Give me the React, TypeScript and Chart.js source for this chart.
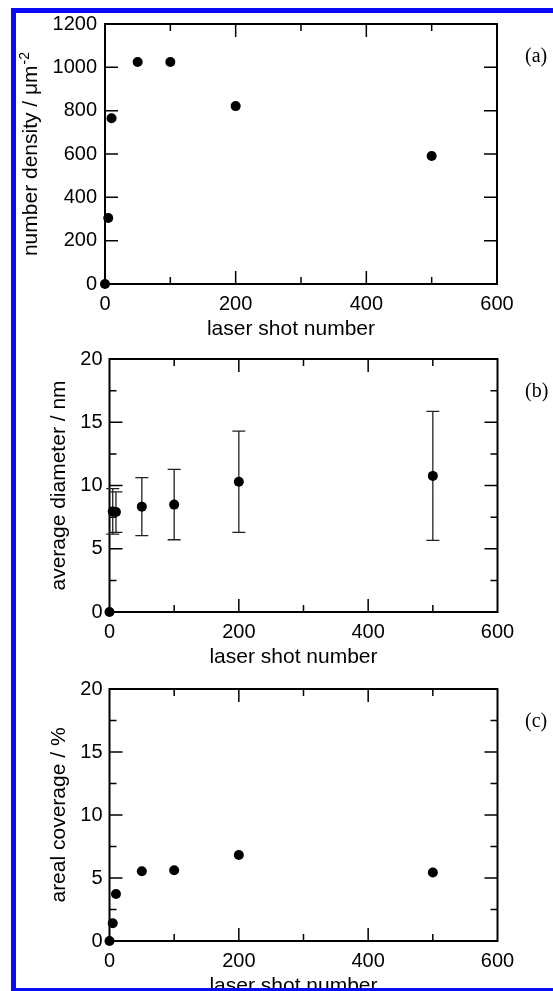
import { useEffect, useRef } from 'react';
import { Chart, registerables } from 'chart.js';

Chart.register(...registerables);

// ---- data ----
const shotNumbers = [0, 5, 10, 50, 100, 200, 500];
const numberDensity = [0, 305, 765, 1025, 1025, 821, 591];
const avgDiameter = [0, 7.95, 7.9, 8.33, 8.49, 10.3, 10.76];
const diameterError = [0, 1.8, 1.6, 2.29, 2.78, 4.0, 5.1];
const arealCoverage = [0, 1.41, 3.73, 5.54, 5.61, 6.82, 5.43];

const xMajorTicks = [200, 400];
const xMinorTicks = [100, 300, 500];
const densityMajorTicks = [200, 400, 600, 800, 1000];
const percentMajorTicks = [5, 10, 15];
const percentMinorTicks = [2.5, 7.5, 12.5, 17.5];

const xTitle = 'laser shot number';

const SANS = '"Liberation Sans", Arial, Helvetica, sans-serif';
const SERIF = '"Liberation Serif", "Times New Roman", serif';
const W = 553;

type Spec = {
  key: string;
  canvasTop: number;
  canvasHeight: number;
  plotLeft: number;
  plotTop: number;
  plotRight: number;
  plotBottom: number;
  yMax: number;
  yStep: number;
  yMajor: number[];
  yMinor: number[];
  values: number[];
  errors?: number[];
  yTitle: string;
  ySup?: string;
  yTitleX: number;
  label: string;
  tickPad: number;
};

const specs: Spec[] = [
  {
    key: 'a', canvasTop: 0, canvasHeight: 340,
    plotLeft: 105, plotTop: 24, plotRight: 497, plotBottom: 284,
    yMax: 1200, yStep: 200, yMajor: densityMajorTicks, yMinor: [],
    values: numberDensity, yTitle: 'number density / \u03bcm', ySup: '-2',
    yTitleX: 37, label: '(a)', tickPad: 8,
  },
  {
    key: 'b', canvasTop: 340, canvasHeight: 330,
    plotLeft: 109.5, plotTop: 354, plotRight: 497.5, plotBottom: 612,
    yMax: 20, yStep: 5, yMajor: percentMajorTicks, yMinor: percentMinorTicks,
    values: avgDiameter, errors: diameterError, yTitle: 'average diameter / nm',
    yTitleX: 65, label: '(b)', tickPad: 7,
  },
  {
    key: 'c', canvasTop: 670, canvasHeight: 321,
    plotLeft: 109.5, plotTop: 682, plotRight: 497.5, plotBottom: 941,
    yMax: 20, yStep: 5, yMajor: percentMajorTicks, yMinor: percentMinorTicks,
    values: arealCoverage, yTitle: 'areal coverage / %',
    yTitleX: 65, label: '(c)', tickPad: 7,
  },
];

function makePlugin(spec: Spec) {
  return {
    id: 'decor' + spec.key,
    beforeDatasetsDraw(chart: any) {
      const ctx = chart.ctx as CanvasRenderingContext2D;
      const a = chart.chartArea;
      const xs = chart.scales.x;
      const ys = chart.scales.y;
      ctx.save();
      ctx.strokeStyle = '#000';
      ctx.lineWidth = 1.5;
      const MAJ = 13;
      const MIN = 7;
      ctx.beginPath();
      for (const v of xMajorTicks) {
        const px = xs.getPixelForValue(v);
        ctx.moveTo(px, a.bottom); ctx.lineTo(px, a.bottom - MAJ);
        ctx.moveTo(px, a.top); ctx.lineTo(px, a.top + MAJ);
      }
      for (const v of xMinorTicks) {
        const px = xs.getPixelForValue(v);
        ctx.moveTo(px, a.bottom); ctx.lineTo(px, a.bottom - MIN);
        ctx.moveTo(px, a.top); ctx.lineTo(px, a.top + MIN);
      }
      for (const v of spec.yMajor) {
        const py = ys.getPixelForValue(v);
        ctx.moveTo(a.left, py); ctx.lineTo(a.left + MAJ, py);
        ctx.moveTo(a.right, py); ctx.lineTo(a.right - MAJ, py);
      }
      for (const v of spec.yMinor) {
        const py = ys.getPixelForValue(v);
        ctx.moveTo(a.left, py); ctx.lineTo(a.left + MIN, py);
        ctx.moveTo(a.right, py); ctx.lineTo(a.right - MIN, py);
      }
      ctx.stroke();
      ctx.lineWidth = 2;
      ctx.strokeRect(a.left, a.top, a.right - a.left, a.bottom - a.top);
      if (spec.errors) {
        ctx.strokeStyle = '#222';
        ctx.lineWidth = 1.3;
        ctx.beginPath();
        spec.errors.forEach((e, i) => {
          if (!e) return;
          const px = xs.getPixelForValue(shotNumbers[i]);
          const pt = ys.getPixelForValue(spec.values[i] + e);
          const pb = ys.getPixelForValue(spec.values[i] - e);
          ctx.moveTo(px, pt); ctx.lineTo(px, pb);
          ctx.moveTo(px - 6.5, pt); ctx.lineTo(px + 6.5, pt);
          ctx.moveTo(px - 6.5, pb); ctx.lineTo(px + 6.5, pb);
        });
        ctx.stroke();
      }
      ctx.restore();
    },
    afterDraw(chart: any) {
      const ctx = chart.ctx as CanvasRenderingContext2D;
      const a = chart.chartArea;
      ctx.save();
      ctx.fillStyle = '#000';
      ctx.font = `21px ${SANS}`;
      ctx.textAlign = 'center';
      ctx.textBaseline = 'alphabetic';
      ctx.fillText(xTitle, (a.left + a.right) / 2 - 10, a.bottom + 51);
      const cy = (a.top + a.bottom) / 2;
      ctx.translate(spec.yTitleX, cy);
      ctx.rotate(-Math.PI / 2);
      ctx.font = `21px ${SANS}`;
      const mainW = ctx.measureText(spec.yTitle).width;
      let supW = 0;
      if (spec.ySup) {
        ctx.font = `14px ${SANS}`;
        supW = ctx.measureText(spec.ySup).width + 1;
      }
      const total = mainW + supW;
      ctx.textAlign = 'left';
      ctx.font = `21px ${SANS}`;
      ctx.fillText(spec.yTitle, -total / 2, 0);
      if (spec.ySup) {
        ctx.font = `14px ${SANS}`;
        ctx.fillText(spec.ySup, -total / 2 + mainW + 1, -8);
      }
      ctx.restore();
      ctx.save();
      ctx.fillStyle = '#000';
      ctx.font = `20px ${SERIF}`;
      ctx.textAlign = 'left';
      ctx.textBaseline = 'alphabetic';
      ctx.fillText(spec.label, 525, a.top + 38);
      ctx.restore();
    },
  };
}

function Panel({ spec }: { spec: Spec }) {
  const ref = useRef<HTMLCanvasElement | null>(null);
  useEffect(() => {
    if (!ref.current) return;
    const padTop = spec.plotTop - spec.canvasTop;
    const xHeight = spec.canvasHeight - (spec.plotBottom - spec.canvasTop);
    const chart = new Chart(ref.current, {
      type: 'scatter',
      data: {
        datasets: [
          {
            data: shotNumbers.map((x, i) => ({ x, y: spec.values[i] })),
            pointRadius: 5,
            pointHoverRadius: 5,
            pointBorderWidth: 0,
            backgroundColor: '#000',
            borderColor: '#000',
            clip: false as any,
          },
        ],
      },
      options: {
        responsive: false,
        maintainAspectRatio: false,
        animation: false,
        events: [],
        layout: { padding: { top: padTop, right: W - spec.plotRight, left: 0, bottom: 0 } },
        plugins: { legend: { display: false }, tooltip: { enabled: false } },
        scales: {
          x: {
            type: 'linear',
            min: 0,
            max: 600,
            ticks: {
              stepSize: 200, color: '#000', font: { family: SANS, size: 20 }, padding: 8, maxRotation: 0,
              callback: (v: any) => String(v),
            },
            grid: { display: false, drawTicks: false },
            border: { display: false },
            afterFit: (s: any) => { s.height = xHeight; },
          },
          y: {
            type: 'linear',
            min: 0,
            max: spec.yMax,
            ticks: {
              stepSize: spec.yStep, color: '#000', font: { family: SANS, size: 20 }, padding: spec.tickPad,
              callback: (v: any) => String(v),
            },
            grid: { display: false, drawTicks: false },
            border: { display: false },
            afterFit: (s: any) => { s.width = spec.plotLeft; },
          },
        },
      },
      plugins: [makePlugin(spec)],
    } as any);
    return () => chart.destroy();
  }, [spec]);
  return (
    <canvas
      ref={ref}
      width={W}
      height={spec.canvasHeight}
      style={{ position: 'absolute', left: 0, top: spec.canvasTop, width: W, height: spec.canvasHeight }}
    />
  );
}

export default function App() {
  return (
    <div
      style={{
        position: 'absolute', left: 0, top: 0, width: W, height: 991,
        overflow: 'hidden', background: '#fff',
      }}
    >
      {specs.map((s) => (
        <Panel key={s.key} spec={s} />
      ))}
      <div
        style={{
          position: 'absolute', left: 11, top: 8, width: 620, height: 985,
          border: '5px solid #0a0af5', boxSizing: 'border-box',
        }}
      />
    </div>
  );
}
